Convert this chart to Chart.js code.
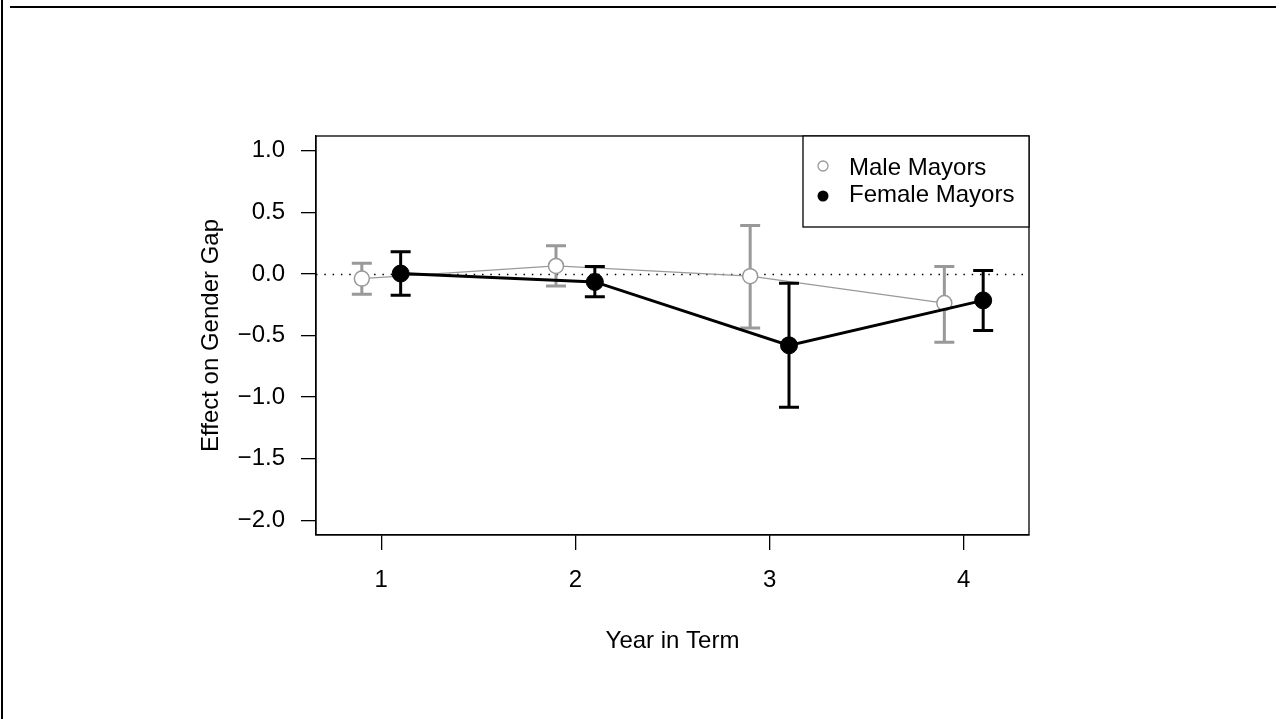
<!DOCTYPE html>
<html>
<head>
<meta charset="utf-8">
<title>Effect on Gender Gap by Year in Term</title>
<script src="https://cdn.jsdelivr.net/npm/chart.js@4.4.1/dist/chart.umd.min.js"></script>
<style>
    html, body { margin: 0; padding: 0; background: #fff; }
    #wrap { position: relative; width: 1281px; height: 719px; overflow: hidden; }
    #chart { position: absolute; left: 0; top: 0; }
    .frame { position: absolute; background: #000; }
</style>
</head>
<body>
<div id="wrap">
    <canvas id="chart" width="1281" height="719"></canvas>
    <div class="frame" style="left:10px; top:6px; width:1266px; height:1.5px;"></div>
    <div class="frame" style="left:1px; top:0; width:1.5px; height:719px;"></div>
</div>
<script>
// Data
const tahunMasaJabatan = [1, 2, 3, 4];
const geserX = 0.1; // male left, female right

const lakiEstimasi = [-0.038, 0.065, -0.018, -0.237];
const lakiBawah = [-0.165, -0.098, -0.44, -0.554];
const lakiAtas = [0.087, 0.228, 0.394, 0.061];

const perempuanEstimasi = [0.003, -0.065, -0.58, -0.215];
const perempuanBawah = [-0.173, -0.185, -1.083, -0.459];
const perempuanAtas = [0.18, 0.06, -0.075, 0.028];

const tickX = [1, 2, 3, 4];
const tickY = [-2.0, -1.5, -1.0, -0.5, 0.0, 0.5, 1.0];

const labelLaki = 'Male Mayors';
const labelPerempuan = 'Female Mayors';

const abu = '#999999';
const hitam = '#000000';
const FONT = '"Liberation Sans", Arial, Helvetica, sans-serif';

// build {x, y} points
function buatTitik(estimasi, geser) {
    return tahunMasaJabatan.map((t, i) => ({ x: t + geser, y: estimasi[i] }));
}

function formatAngka(v) {
    return v.toFixed(1).replace('-', '\u2212');
}

// error bars, drawn before each dataset so the points sit on top
const errorBarPlugin = {
    id: 'errorBars',
    beforeDatasetDraw(chart, args) {
        const ds = chart.data.datasets[args.index];
        if (!ds.errBawah) return;
        const { ctx, scales: { x, y } } = chart;
        ctx.save();
        ctx.strokeStyle = ds.errWarna;
        ctx.lineWidth = 3;
        ds.data.forEach((p, i) => {
            const px = x.getPixelForValue(p.x);
            const yLo = y.getPixelForValue(ds.errBawah[i]);
            const yHi = y.getPixelForValue(ds.errAtas[i]);
            ctx.beginPath();
            ctx.moveTo(px, yLo);
            ctx.lineTo(px, yHi);
            ctx.moveTo(px - 10, yLo);
            ctx.lineTo(px + 10, yLo);
            ctx.moveTo(px - 10, yHi);
            ctx.lineTo(px + 10, yHi);
            ctx.stroke();
        });
        ctx.restore();
    }
};

// dotted zero line + box around plot
const kotakPlugin = {
    id: 'kotak',
    beforeDatasetsDraw(chart) {
        const { ctx, chartArea: a, scales: { y } } = chart;
        const y0 = Math.round(y.getPixelForValue(0)) + 0.5;
        ctx.save();
        ctx.strokeStyle = hitam;
        ctx.lineWidth = 1.3;
        ctx.setLineDash([1.5, 6.8]);
        ctx.beginPath();
        ctx.moveTo(a.left, y0);
        ctx.lineTo(a.right, y0);
        ctx.stroke();
        ctx.restore();
    },
    afterDraw(chart) {
        const { ctx, chartArea: a } = chart;
        ctx.save();
        ctx.strokeStyle = hitam;
        ctx.lineWidth = 1.3;
        ctx.strokeRect(a.left, a.top, a.right - a.left, a.bottom - a.top);
        ctx.restore();
    }
};

// legend in top-right corner, boxed like R's legend()
const legendaPlugin = {
    id: 'legenda',
    afterDraw(chart) {
        const { ctx, chartArea: a } = chart;
        const kiri = a.right - 226;
        const atas = a.top;
        ctx.save();
        ctx.fillStyle = '#fff';
        ctx.fillRect(kiri, atas, 226, 91);
        ctx.strokeStyle = hitam;
        ctx.lineWidth = 1.3;
        ctx.strokeRect(kiri, atas, 226, 91);

        // male symbol
        ctx.beginPath();
        ctx.arc(kiri + 20, atas + 30, 5, 0, Math.PI * 2);
        ctx.strokeStyle = abu;
        ctx.lineWidth = 1.3;
        ctx.stroke();
        // female symbol
        ctx.beginPath();
        ctx.arc(kiri + 20, atas + 60, 5.5, 0, Math.PI * 2);
        ctx.fillStyle = hitam;
        ctx.fill();

        ctx.fillStyle = hitam;
        ctx.font = '24px ' + FONT;
        ctx.textAlign = 'left';
        ctx.textBaseline = 'alphabetic';
        ctx.fillText(labelLaki, kiri + 46, atas + 39);
        ctx.fillText(labelPerempuan, kiri + 46, atas + 66);
        ctx.restore();
    }
};

const ctx = document.getElementById('chart').getContext('2d');
const chart = new Chart(ctx, {
    type: 'line',
    data: {
        datasets: [
            {
                label: labelLaki,
                data: buatTitik(lakiEstimasi, -geserX),
                errBawah: lakiBawah,
                errAtas: lakiAtas,
                errWarna: abu,
                borderColor: abu,
                borderWidth: 1.3,
                pointRadius: 7.5,
                pointBorderWidth: 1.5,
                pointBorderColor: abu,
                pointBackgroundColor: '#ffffff',
                tension: 0,
                order: 2,
            },
            {
                label: labelPerempuan,
                data: buatTitik(perempuanEstimasi, geserX),
                errBawah: perempuanBawah,
                errAtas: perempuanAtas,
                errWarna: hitam,
                borderColor: hitam,
                borderWidth: 3,
                pointRadius: 8.5,
                pointBorderWidth: 1,
                pointBorderColor: hitam,
                pointBackgroundColor: hitam,
                tension: 0,
                order: 1,
            },
        ],
    },
    options: {
        responsive: false,
        animation: false,
        events: [],
        layout: {
            padding: { left: 0, top: 136, right: 252, bottom: 0 },
        },
        scales: {
            x: {
                type: 'linear',
                min: 0.664,
                max: 4.336,
                afterFit: (scale) => { scale.height = 184; },
                afterBuildTicks: (scale) => {
                    scale.ticks = tickX.map(v => ({ value: v }));
                },
                grid: {
                    drawOnChartArea: false,
                    drawTicks: true,
                    tickLength: 15,
                    color: hitam,
                    lineWidth: 1.3,
                },
                border: { display: true, color: hitam, width: 1.3 },
                ticks: {
                    autoSkip: false,
                    maxRotation: 0,
                    padding: 15.6,
                    color: hitam,
                    font: { family: FONT, size: 24 },
                    callback: (v) => String(v),
                },
                title: {
                    display: true,
                    text: 'Year in Term',
                    color: hitam,
                    font: { family: FONT, size: 24 },
                    padding: { top: 0, bottom: 63.6 },
                },
            },
            y: {
                type: 'linear',
                min: -2.12,
                max: 1.12,
                afterFit: (scale) => { scale.width = 316; },
                afterBuildTicks: (scale) => {
                    scale.ticks = tickY.map(v => ({ value: v }));
                },
                grid: {
                    drawOnChartArea: false,
                    drawTicks: true,
                    tickLength: 15,
                    color: hitam,
                    lineWidth: 1.3,
                },
                border: { display: true, color: hitam, width: 1.3 },
                ticks: {
                    autoSkip: false,
                    padding: 16,
                    color: hitam,
                    font: { family: FONT, size: 24 },
                    callback: (v) => formatAngka(v),
                },
                title: {
                    display: true,
                    text: 'Effect on Gender Gap',
                    color: hitam,
                    font: { family: FONT, size: 24 },
                    padding: { top: 196.6, bottom: 0 },
                },
            },
        },
        plugins: {
            legend: { display: false },
            tooltip: { enabled: false },
        },
    },
    plugins: [errorBarPlugin, kotakPlugin, legendaPlugin],
});
</script>
</body>
</html>
